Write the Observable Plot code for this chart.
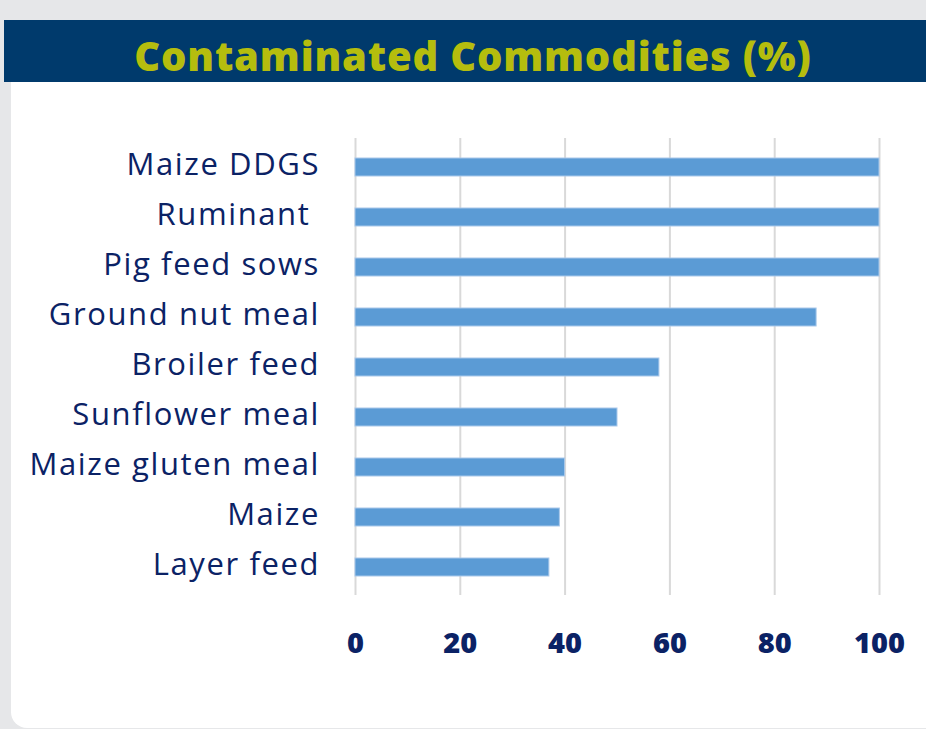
<!DOCTYPE html>
<html><head><meta charset="utf-8">
<script src="https://cdn.jsdelivr.net/npm/d3@7"></script>
<script src="https://cdn.jsdelivr.net/npm/@observablehq/plot@0.6"></script>
<style>
html,body{margin:0;padding:0;background:#e6e7e9;}
#wrap{position:relative;width:926px;height:729px;overflow:hidden;background:#e6e7e9;}
#header{position:absolute;left:4px;top:20px;width:922px;height:62px;background:#003a6c;}
#title{position:absolute;left:20px;right:0;top:20px;height:62px;margin:0;text-align:center;
  font-family:"Open Sans",sans-serif;font-weight:800;font-size:40px;line-height:72px;color:#b5bd0e;letter-spacing:0.8px;white-space:nowrap;}
#card{position:absolute;left:11px;top:82px;width:915px;height:646px;background:#fff;border-bottom-left-radius:16px;}
#chart{position:absolute;left:0;top:0;}
#chart svg text{white-space:pre;}
#chart svg g[aria-label="y-axis tick label"] text{letter-spacing:1.6px;}
</style>
</head><body>
<div id="wrap">
  <div id="header"></div>
  <h1 id="title">Contaminated Commodities (%)</h1>
  <div id="card"></div>
  <div id="chart"></div>
</div>
<script>
const commodities = ["Maize DDGS","Ruminant ","Pig feed sows","Ground nut meal","Broiler feed","Sunflower meal","Maize gluten meal","Maize","Layer feed"];
const percentages = [100,100,100,88,58,50,40,39,37];
const xTicks = [0,20,40,60,80,100];

const data = commodities.map((name,i)=>({name, value: percentages[i]}));
const navy = "#0b2265";
const chart = Plot.plot({
  width: 926, height: 729,
  marginLeft: 355, marginRight: 47, marginTop: 138, marginBottom: 134,
  style: {background:"transparent", fontFamily:"'Open Sans', sans-serif", color: navy, overflow:"visible"},
  x: {domain:[0,100], ticks: xTicks, label:null},
  y: {domain: commodities, paddingInner:0.65, paddingOuter:0.325, label:null},
  marks: [
    Plot.gridX(xTicks, {stroke:"#d9d9d9", strokeOpacity:1, strokeWidth:2}),
    Plot.barX(data, {x:"value", y:"name", fill:"#5b9bd5", stroke:"#a9c8ea", strokeWidth:1}),
    Plot.axisX(xTicks, {tickSize:0, tickPadding:37, fontSize:29, fontWeight:800, fill:navy, label:null}),
    Plot.axisY({tickSize:0, tickPadding:35.5, dy:-2, fontSize:31, fill:navy, label:null})
  ]
});
document.getElementById("chart").appendChild(chart);
</script>
</body></html>
